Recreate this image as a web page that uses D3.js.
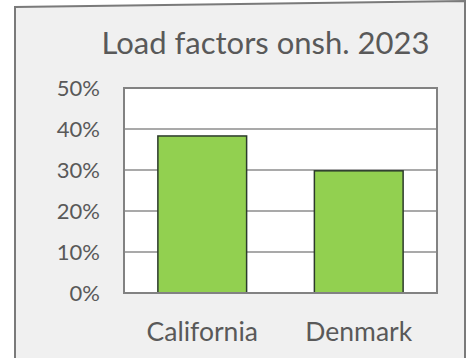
<!DOCTYPE html>
<html>
<head>
<meta charset="utf-8">
<script src="https://cdn.jsdelivr.net/npm/d3@7"></script>
<style>
  html, body { margin: 0; padding: 0; background: #ffffff; }
  svg { display: block; }
  text { font-family: Lato, "Open Sans", sans-serif; fill: #595959; }
</style>
</head>
<body>
<svg id="chart" width="467" height="358"></svg>
<script>
// Onshore wind load factors, 2023
const categories = ["California", "Denmark"];
const loadFactors = [0.383, 0.298];
const yTicks = [0, 0.1, 0.2, 0.3, 0.4, 0.5];
const title = "Load factors onsh. 2023";

const svg = d3.select("#chart");
const W = 467, H = 358;

// chart area frame
const frame = { left: 15, topLeft: 7, topRight: 1, right: 465 };
svg.append("path")
  .attr("d", `M${frame.left},${H} L${frame.left},${frame.topLeft} L${frame.right},${frame.topRight} L${frame.right},${H} Z`)
  .attr("fill", "#f0f0f0");
svg.append("path")
  .attr("d", `M${frame.left},${H} L${frame.left},${frame.topLeft} L${frame.right},${frame.topRight} L${frame.right},${H}`)
  .attr("fill", "none")
  .attr("stroke", "#7a7a7a")
  .attr("stroke-width", 2);

const plot = { x0: 124, x1: 437, y0: 88, y1: 293 };

const x = d3.scaleBand()
  .domain(categories)
  .range([plot.x0, plot.x1])
  .paddingInner(0.433)
  .paddingOuter(0.2165);

const y = d3.scaleLinear()
  .domain([0, 0.5])
  .range([plot.y1, plot.y0]);

// plot background
svg.append("rect")
  .attr("x", plot.x0).attr("y", plot.y0)
  .attr("width", plot.x1 - plot.x0).attr("height", plot.y1 - plot.y0)
  .attr("fill", "#ffffff");

// horizontal gridlines
svg.append("g")
  .selectAll("line")
  .data(yTicks.filter(t => t > 0 && t < 0.5))
  .join("line")
  .attr("x1", plot.x0).attr("x2", plot.x1)
  .attr("y1", d => y(d)).attr("y2", d => y(d))
  .attr("stroke", "#8c8c8c")
  .attr("stroke-width", 1.5);

// bars
svg.append("g")
  .selectAll("rect")
  .data(categories.map((c, i) => ({ c, v: loadFactors[i] })))
  .join("rect")
  .attr("x", d => x(d.c))
  .attr("y", d => y(d.v))
  .attr("width", x.bandwidth())
  .attr("height", d => y(0) - y(d.v))
  .attr("fill", "#92d050")
  .attr("stroke", "#2b3a2b")
  .attr("stroke-width", 1.5);

// plot border
svg.append("rect")
  .attr("x", plot.x0).attr("y", plot.y0)
  .attr("width", plot.x1 - plot.x0).attr("height", plot.y1 - plot.y0)
  .attr("fill", "none")
  .attr("stroke", "#828282")
  .attr("stroke-width", 2);

// y axis labels
const yAxis = d3.axisLeft(y)
  .tickValues(yTicks)
  .tickFormat(d3.format(".0%"))
  .tickSize(0)
  .tickPadding(0);
const gy = svg.append("g")
  .attr("transform", `translate(100,0)`)
  .call(yAxis);
gy.select(".domain").remove();
gy.selectAll("text")
  .attr("font-family", "Lato, 'Open Sans', sans-serif")
  .attr("font-size", 22)
  .attr("fill", "#595959");

// x axis labels
const xAxis = d3.axisBottom(x).tickSize(0).tickPadding(0);
const gx = svg.append("g")
  .attr("transform", `translate(0,${plot.y1 + 29})`)
  .call(xAxis);
gx.select(".domain").remove();
gx.selectAll("text")
  .attr("font-family", "Lato, 'Open Sans', sans-serif")
  .attr("font-size", 26.5)
  .attr("fill", "#595959");

// title
svg.append("text")
  .attr("x", 265.5)
  .attr("y", 54)
  .attr("text-anchor", "middle")
  .attr("font-size", 31)
  .text(title);
</script>
</body>
</html>
